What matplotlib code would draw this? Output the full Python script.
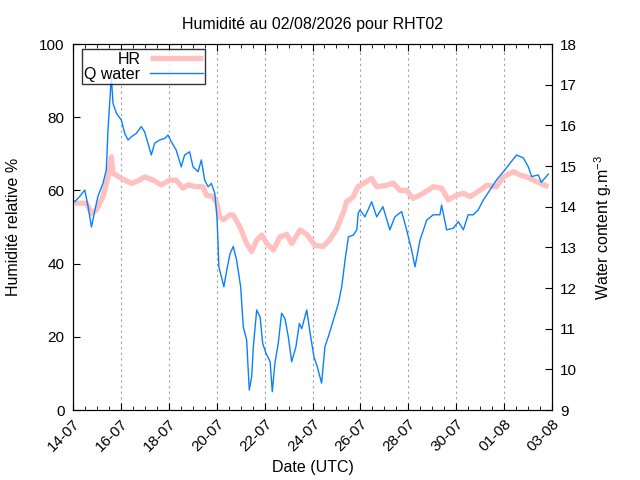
import matplotlib
matplotlib.use("Agg")
import matplotlib.pyplot as plt
import matplotlib.dates as mdates
from matplotlib.ticker import AutoMinorLocator, FixedLocator
import datetime as dt

plt.rcParams['font.family'] = ['Liberation Sans', 'DejaVu Sans']

start = dt.datetime(2026, 7, 14)

# HR (%) : days since 14-07 00:00
hr_days = [0.07, 0.56, 0.77, 0.97, 1.25, 1.46, 1.60, 1.67, 2.02, 2.44, 2.78, 2.99, 3.34, 3.69,
           4.04, 4.31, 4.59, 4.80, 5.15, 5.43, 5.57, 5.85, 6.01, 6.12, 6.28, 6.55, 6.69, 6.97,
           7.25, 7.46, 7.67, 7.88, 8.09, 8.37, 8.64, 8.92, 9.13, 9.48, 9.76, 10.1, 10.45, 10.73,
           11.01, 11.29, 11.43, 11.57, 11.7, 11.9, 12.26, 12.47, 12.68, 13.1, 13.37, 13.65, 13.93,
           14.2, 14.62, 15.04, 15.39, 15.67, 16.02, 16.3, 16.58, 16.99, 17.27, 17.69, 17.97, 18.39,
           18.66, 18.94, 19.22, 19.5, 19.85]
hr_vals = [56.5, 56.5, 53.7, 54.6, 58.3, 63.7, 69.2, 64.7, 63.3, 61.9, 62.8, 63.7, 62.8, 61.5,
           62.8, 62.8, 60.6, 61.5, 61, 61, 58.7, 58.3, 56.5, 52.8, 52, 53.3, 53.3, 50,
           45.5, 43.3, 46.4, 47.8, 45.5, 43.7, 47.3, 48, 45.5, 49.2, 48, 45, 44.7, 46.6,
           49.5, 54, 57, 57.5, 58.3, 61, 62.4, 63.3, 61, 61.4, 62, 60, 60,
           57.8, 59.2, 61, 60.6, 57.4, 58.7, 59.2, 58.3, 60, 61.4, 61, 63.7, 65.1,
           64.2, 63.7, 62.8, 62, 61]

# Water content (g.m-3)
q_days = [0.01, 0.07, 0.28, 0.49, 0.63, 0.77, 0.91, 1.04, 1.25, 1.39, 1.46, 1.53, 1.60, 1.67,
          1.81, 2.02, 2.16, 2.30, 2.44, 2.64, 2.85, 2.99, 3.13, 3.27, 3.41, 3.62, 3.83, 3.97,
          4.10, 4.31, 4.52, 4.66, 4.87, 5.01, 5.22, 5.36, 5.50, 5.64, 5.78, 5.92, 6.01, 6.05,
          6.09, 6.30, 6.42, 6.56, 6.69, 6.83, 7.00, 7.11, 7.25, 7.36, 7.46, 7.53, 7.67, 7.81,
          7.92, 8.06, 8.23, 8.32, 8.43, 8.57, 8.71, 8.85, 8.99, 9.13, 9.31, 9.45, 9.55, 9.76,
          9.90, 10.06, 10.20, 10.38, 10.52, 10.66, 10.87, 11.08, 11.22, 11.36, 11.50, 11.70,
          11.85, 11.91, 11.98, 12.19, 12.47, 12.68, 12.94, 13.23, 13.44, 13.72, 13.93, 14.14,
          14.28, 14.49, 14.77, 15.04, 15.32, 15.39, 15.60, 15.88, 16.09, 16.30, 16.50, 16.71,
          16.92, 17.13, 17.41, 17.69, 17.97, 18.25, 18.52, 18.80, 19.01, 19.15, 19.43, 19.55,
          19.85]
q_vals = [14.16, 14.12, 14.25, 14.41, 14.0, 13.5, 13.9, 14.25, 14.57, 14.9, 15.88, 16.54, 17.2, 16.54,
          16.3, 16.13, 15.8, 15.64, 15.72, 15.8, 15.97, 15.84, 15.56, 15.27, 15.56, 15.64, 15.68, 15.76,
          15.6, 15.39, 14.98, 15.27, 15.35, 14.98, 14.86, 15.15, 14.65, 14.49, 14.57, 14.33, 13.75, 13.2,
          12.52, 12.03, 12.44, 12.85, 13.02, 12.69, 12.03, 11.05, 10.72, 9.49, 9.82, 10.56, 11.46, 11.29,
          10.64, 10.39, 10.19, 9.45, 10.15, 10.64, 11.38, 11.25, 10.8, 10.19, 10.56, 11.13, 11.0, 11.46,
          10.89, 10.31, 10.06, 9.66, 10.56, 10.8, 11.21, 11.62, 12.03, 12.69, 13.26, 13.3,
          13.43, 13.84, 13.92, 13.75, 14.12, 13.75, 14.0, 13.43, 13.75, 13.88, 13.43, 12.93,
          12.52, 13.18, 13.67, 13.8, 13.8, 14.04, 13.43, 13.47, 13.63, 13.43, 13.8, 13.8,
          13.92, 14.16, 14.41, 14.66, 14.86, 15.07, 15.27, 15.2, 14.98, 14.74, 14.78, 14.6,
          14.8]

tick_dates = ['2026-07-14', '2026-07-16', '2026-07-18', '2026-07-20', '2026-07-22', '2026-07-24',
              '2026-07-26', '2026-07-28', '2026-07-30', '2026-08-01', '2026-08-03']

hr_t = [start + dt.timedelta(days=d) for d in hr_days]
q_t = [start + dt.timedelta(days=d) for d in q_days]
ticks = [mdates.date2num(dt.datetime.strptime(s, '%Y-%m-%d')) for s in tick_dates]
tick_labels = [dt.datetime.strptime(s, '%Y-%m-%d').strftime('%d-%m') for s in tick_dates]

fig = plt.figure(figsize=(6.4, 4.8), dpi=100)
ax = fig.add_axes([73/640, 1-410/480, 479/640, 366/480])
ax2 = ax.twinx()

l1, = ax.plot(hr_t, hr_vals, color='#ffc0c0', lw=3.8, solid_capstyle='butt', label='HR')
l2, = ax2.plot(q_t, q_vals, color='#0a80ff', lw=1.0, label='Q water')

ax.set_xlim(ticks[0], ticks[-1])
ax.set_ylim(0, 100)
ax2.set_ylim(9, 18)
ax.xaxis.set_major_locator(FixedLocator(ticks))
ax.set_xticklabels(tick_labels, rotation=45, ha='right', va='top', rotation_mode='anchor')
ax.xaxis.set_minor_locator(AutoMinorLocator(4))
ax.set_yticks([0, 20, 40, 60, 80, 100])
ax2.set_yticks(list(range(9, 19)))

fs = 11.5
ax.tick_params(axis='x', which='both', direction='in', top=True, bottom=True, labelsize=11, pad=5)
ax.tick_params(axis='x', which='major', length=5)
ax.tick_params(axis='x', which='minor', length=3)
ax.tick_params(axis='y', direction='in', left=True, right=False, length=5, labelsize=11, pad=6)
ax2.tick_params(axis='y', direction='in', length=5, labelsize=11, pad=6)

ax.grid(axis='x', which='major', color='#a0a0a0', linestyle=(0, (2, 3)), linewidth=0.8)

ax.set_xlabel('Date (UTC)', fontsize=fs, labelpad=4)
ax.set_ylabel('Humidité relative %', fontsize=fs, labelpad=13)
ax2.set_ylabel(r'Water content g.m$^{\mathregular{-3}}$', fontsize=fs, labelpad=11)
ax.set_title('Humidité au 02/08/2026 pour RHT02', fontsize=fs, pad=11)

leg = ax2.legend([l1, l2], ['HR', 'Q water'], loc='upper left', bbox_to_anchor=(0.019, 0.986),
                 markerfirst=False, frameon=True, fancybox=False, edgecolor='black',
                 fontsize=fs, handlelength=3.3, borderpad=0.15, labelspacing=0.0,
                 handletextpad=0.6, borderaxespad=0)
leg.get_frame().set_linewidth(1.0)

fig.savefig('out.png', dpi=100)
